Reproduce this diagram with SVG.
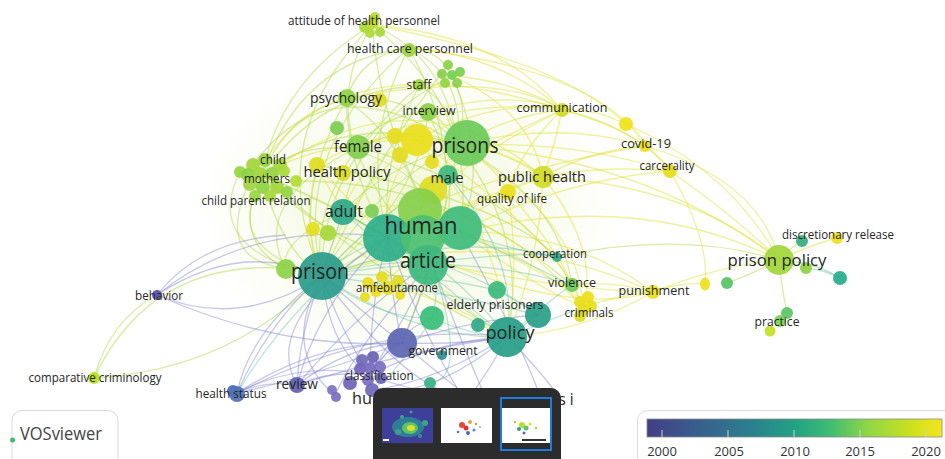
<svg xmlns="http://www.w3.org/2000/svg" width="945" height="459" viewBox="0 0 945 459">
<defs>
<linearGradient id="vir" x1="0" y1="0" x2="1" y2="0">
<stop offset="0" stop-color="#433e85"/><stop offset="0.15" stop-color="#3a5a8c"/><stop offset="0.35" stop-color="#2c7f8e"/><stop offset="0.5" stop-color="#22a185"/><stop offset="0.62" stop-color="#3fbc73"/><stop offset="0.75" stop-color="#8fd744"/><stop offset="0.9" stop-color="#cde11d"/><stop offset="1" stop-color="#f5e51e"/>
</linearGradient>
<radialGradient id="haze" cx="0.5" cy="0.5" r="0.5">
<stop offset="0" stop-color="#e4efb4" stop-opacity="0.55"/><stop offset="1" stop-color="#e4efb4" stop-opacity="0"/>
</radialGradient>
<style>
.l{font-family:"Open Sans","Liberation Sans",sans-serif;fill:#262626;text-anchor:middle}
.e{fill:none;stroke-width:1.3;stroke-linecap:round}
.ey{stroke:#e2e43a;stroke-opacity:.5}
.eg{stroke:#b4da4c;stroke-opacity:.5}
.et{stroke:#5fbfa3;stroke-opacity:.42}
.ep{stroke:#8a8ad4;stroke-opacity:.48}
.n circle,.n ellipse{fill-opacity:.93}
</style>
</defs>
<rect width="945" height="459" fill="#ffffff"/>
<ellipse cx="410" cy="210" rx="210" ry="160" fill="url(#haze)"/>
<g id="connectors">
<path class="e eg" d="M372 25 Q445 55 458 145"/>
<path class="e eg" d="M372 25 Q380 120 425 205"/>
<path class="e eg" d="M372 25 Q335 85 355 150"/>
<path class="e eg" d="M372 25 Q280 80 262 175"/>
<path class="e eg" d="M372 25 Q480 110 460 232"/>
<path class="e ey" d="M372 25 Q500 35 560 108"/>
<path class="e eg" d="M372 25 Q260 140 322 276"/>
<path class="e ey" d="M372 25 Q560 60 626 124"/>
<path class="e eg" d="M409 48 Q465 75 458 145"/>
<path class="e eg" d="M409 48 Q360 140 388 237"/>
<path class="e eg" d="M409 48 Q470 160 432 262"/>
<path class="e eg" d="M409 48 Q300 60 262 175"/>
<path class="e eg" d="M409 48 Q360 55 346 100"/>
<path class="e eg" d="M409 48 Q290 150 322 276"/>
<path class="e ey" d="M409 48 Q500 55 560 108"/>
<path class="e eg" d="M409 48 Q440 50 452 76"/>
<path class="e ey" d="M409 48 Q600 70 645 146"/>
<path class="e eg" d="M452 76 Q470 110 458 145"/>
<path class="e eg" d="M452 76 Q490 160 460 232"/>
<path class="e ey" d="M452 76 Q510 80 560 108"/>
<path class="e ey" d="M452 76 Q530 110 543 177"/>
<path class="e eg" d="M452 76 Q360 120 343 212"/>
<path class="e eg" d="M448 65 Q380 150 322 276"/>
<path class="e eg" d="M419 86 Q450 100 458 145"/>
<path class="e eg" d="M419 86 Q380 160 388 237"/>
<path class="e eg" d="M419 86 Q320 90 262 175"/>
<path class="e eg" d="M419 86 Q320 170 322 276"/>
<path class="e eg" d="M427 112 Q445 120 458 145"/>
<path class="e eg" d="M427 112 Q470 190 432 262"/>
<path class="e eg" d="M427 112 Q380 115 355 150"/>
<path class="e ey" d="M427 112 Q500 90 560 108"/>
<path class="e eg" d="M428 112 Q420 200 322 276"/>
<path class="e eg" d="M346 100 Q410 90 458 145"/>
<path class="e eg" d="M346 100 Q350 180 388 237"/>
<path class="e eg" d="M346 100 Q290 200 322 276"/>
<path class="e eg" d="M346 100 Q290 110 262 175"/>
<path class="e eg" d="M346 100 Q420 150 432 262"/>
<path class="e ey" d="M347 98 Q500 70 562 110"/>
<path class="e eg" d="M355 150 Q410 120 458 145"/>
<path class="e eg" d="M355 150 Q390 220 432 262"/>
<path class="e eg" d="M355 150 Q310 220 322 276"/>
<path class="e eg" d="M355 150 Q420 170 460 232"/>
<path class="e eg" d="M355 150 Q300 140 262 175"/>
<path class="e eg" d="M358 147 Q520 190 572 285"/>
<path class="e eg" d="M358 147 Q250 200 285 268"/>
<path class="e ey" d="M317 165 Q390 120 458 145"/>
<path class="e ey" d="M317 165 Q340 220 388 237"/>
<path class="e ey" d="M317 165 Q300 230 322 276"/>
<path class="e ey" d="M317 165 Q420 280 507 337"/>
<path class="e eg" d="M317 165 Q500 200 557 257"/>
<path class="e eg" d="M262 175 Q320 200 388 237"/>
<path class="e eg" d="M262 175 Q330 250 432 262"/>
<path class="e eg" d="M262 175 Q280 250 322 276"/>
<path class="e eg" d="M262 175 Q350 110 458 145"/>
<path class="e eg" d="M262 175 Q300 190 343 212"/>
<path class="e eg" d="M262 175 Q380 280 507 337"/>
<path class="e eg" d="M262 175 Q230 240 285 268"/>
<path class="e eg" d="M240 172 Q200 250 322 276"/>
<path class="e eg" d="M253 165 Q330 60 458 145"/>
<path class="e ey" d="M265 160 Q350 40 562 110"/>
<path class="e ey" d="M280 165 Q420 70 543 177"/>
<path class="e eg" d="M296 181 Q450 180 572 285"/>
<path class="e eg" d="M248 185 Q215 260 285 268"/>
<path class="e eg" d="M255 195 Q230 250 322 276"/>
<path class="e eg" d="M94 378 Q150 260 285 268"/>
<path class="e eg" d="M94 378 Q110 320 157 295"/>
<path class="e eg" d="M94 378 Q230 370 322 276"/>
<path class="e ey" d="M417 140 Q380 190 388 237"/>
<path class="e ey" d="M417 140 Q340 200 322 276"/>
<path class="e ey" d="M417 140 Q500 230 507 337"/>
<path class="e ey" d="M417 140 Q320 140 262 175"/>
<path class="e ey" d="M417 140 Q360 160 343 212"/>
<path class="e ey" d="M417 140 Q490 140 543 177"/>
<path class="e ey" d="M417 140 Q490 100 560 108"/>
<path class="e ey" d="M417 140 Q560 240 583 307"/>
<path class="e eg" d="M458 145 Q370 190 322 276"/>
<path class="e eg" d="M458 145 Q530 240 507 337"/>
<path class="e ey" d="M458 145 Q510 150 543 177"/>
<path class="e ey" d="M458 145 Q490 160 508 192"/>
<path class="e ey" d="M458 145 Q560 120 645 146"/>
<path class="e ey" d="M458 145 Q580 140 669 172"/>
<path class="e eg" d="M458 145 Q380 170 343 212"/>
<path class="e eg" d="M458 145 Q560 200 572 285"/>
<path class="e ey" d="M458 145 Q580 220 583 307"/>
<path class="e eg" d="M458 145 Q440 250 402 343"/>
<path class="e ey" d="M458 145 Q650 160 779 260"/>
<path class="e ey" d="M460 232 Q640 190 779 260"/>
<path class="e ey" d="M543 177 Q690 185 779 260"/>
<path class="e ey" d="M460 232 Q540 260 583 307"/>
<path class="e ey" d="M460 232 Q600 300 583 307"/>
<path class="e ey" d="M460 232 Q570 230 653 292"/>
<path class="e ey" d="M432 262 Q560 290 653 292"/>
<path class="e ey" d="M322 276 Q500 220 653 292"/>
<path class="e ey" d="M388 237 Q560 320 653 292"/>
<path class="e ey" d="M507 337 Q590 330 653 292"/>
<path class="e ey" d="M583 307 Q620 295 653 292"/>
<path class="e ey" d="M572 285 Q610 280 653 292"/>
<path class="e ey" d="M653 292 Q680 282 705 284"/>
<path class="e ey" d="M653 292 Q720 265 779 260"/>
<path class="e eg" d="M557 257 Q680 230 779 260"/>
<path class="e ey" d="M626 124 Q730 170 779 260"/>
<path class="e ey" d="M670 171 Q740 220 779 260"/>
<path class="e ey" d="M645 146 Q760 180 779 260"/>
<path class="e ey" d="M670 171 Q710 240 705 284"/>
<path class="e ey" d="M562 110 Q595 108 626 124"/>
<path class="e ey" d="M562 110 Q610 120 645 146"/>
<path class="e ey" d="M562 110 Q640 130 670 171"/>
<path class="e ey" d="M626 124 Q640 130 645 146"/>
<path class="e ey" d="M645 146 Q660 155 670 171"/>
<path class="e ey" d="M645 146 Q590 150 543 177"/>
<path class="e ey" d="M670 171 Q600 165 543 177"/>
<path class="e ey" d="M670 171 Q560 180 460 232"/>
<path class="e ey" d="M645 146 Q530 165 425 205"/>
<path class="e ey" d="M562 110 Q510 115 458 145"/>
<path class="e ey" d="M562 110 Q460 160 388 237"/>
<path class="e ey" d="M562 110 Q555 145 543 177"/>
<path class="e ey" d="M562 110 Q520 150 508 192"/>
<path class="e ey" d="M562 110 Q450 95 355 150"/>
<path class="e ey" d="M562 110 Q420 170 322 276"/>
<path class="e ey" d="M543 177 Q470 200 388 237"/>
<path class="e ey" d="M543 177 Q430 220 322 276"/>
<path class="e ey" d="M543 177 Q540 260 507 337"/>
<path class="e ey" d="M543 177 Q600 250 583 307"/>
<path class="e ey" d="M508 192 Q450 210 388 237"/>
<path class="e ey" d="M508 192 Q420 250 322 276"/>
<path class="e ey" d="M508 192 Q520 270 507 337"/>
<path class="e ey" d="M508 192 Q560 250 583 307"/>
<path class="e ey" d="M385 285 Q400 260 432 262"/>
<path class="e ey" d="M385 285 Q450 300 507 337"/>
<path class="e ey" d="M385 285 Q420 200 458 145"/>
<path class="e ey" d="M583 307 Q540 290 460 232"/>
<path class="e ey" d="M343 212 Q480 180 583 307"/>
<path class="e eg" d="M343 212 Q280 240 285 268"/>
<path class="e et" d="M388 237 Q350 250 322 276"/>
<path class="e et" d="M388 237 Q460 300 507 337"/>
<path class="e et" d="M432 262 Q380 260 322 276"/>
<path class="e et" d="M432 262 Q480 300 507 337"/>
<path class="e et" d="M322 276 Q420 340 507 337"/>
<path class="e et" d="M322 276 Q380 320 432 318"/>
<path class="e et" d="M322 276 Q410 270 497 290"/>
<path class="e et" d="M322 276 Q450 230 557 257"/>
<path class="e et" d="M322 276 Q460 250 572 285"/>
<path class="e et" d="M322 276 Q440 290 538 315"/>
<path class="e et" d="M460 232 Q510 250 557 257"/>
<path class="e et" d="M460 232 Q520 260 572 285"/>
<path class="e et" d="M432 262 Q440 290 432 318"/>
<path class="e et" d="M432 262 Q490 280 538 315"/>
<path class="e et" d="M432 318 Q470 335 507 337"/>
<path class="e et" d="M497 290 Q515 300 538 315"/>
<path class="e et" d="M507 337 Q550 300 572 285"/>
<path class="e et" d="M507 337 Q550 320 583 307"/>
<path class="e et" d="M343 212 Q330 250 322 276"/>
<path class="e et" d="M343 212 Q365 225 388 237"/>
<path class="e et" d="M343 212 Q390 240 432 262"/>
<path class="e et" d="M343 212 Q430 290 507 337"/>
<path class="e et" d="M448 175 Q370 220 322 276"/>
<path class="e et" d="M448 175 Q520 260 507 337"/>
<path class="e et" d="M388 237 Q300 290 237 393"/>
<path class="e et" d="M432 262 Q540 250 557 257"/>
<path class="e et" d="M432 318 Q400 370 372 390"/>
<path class="e et" d="M432 262 Q470 380 430 383"/>
<path class="e ep" d="M157 295 Q240 240 322 276"/>
<path class="e ep" d="M157 295 Q240 330 322 276"/>
<path class="e ep" d="M157 295 Q250 220 388 237"/>
<path class="e ep" d="M157 295 Q200 240 285 235"/>
<path class="e ep" d="M157 295 Q280 350 402 343"/>
<path class="e ep" d="M237 393 Q270 320 322 276"/>
<path class="e ep" d="M237 393 Q265 380 297 385"/>
<path class="e ep" d="M237 393 Q320 340 402 343"/>
<path class="e ep" d="M237 393 Q300 360 370 375"/>
<path class="e ep" d="M237 393 Q380 320 507 337"/>
<path class="e ep" d="M322 276 Q250 330 237 393"/>
<path class="e ep" d="M402 343 Q300 380 237 393"/>
<path class="e ep" d="M297 385 Q300 330 322 276"/>
<path class="e ep" d="M297 385 Q350 345 402 343"/>
<path class="e ep" d="M297 385 Q410 350 507 337"/>
<path class="e ep" d="M297 385 Q320 300 388 237"/>
<path class="e ep" d="M297 385 Q370 300 432 262"/>
<path class="e ep" d="M297 385 Q330 370 370 375"/>
<path class="e ep" d="M388 237 Q260 320 297 385"/>
<path class="e ep" d="M370 375 Q385 350 402 343"/>
<path class="e ep" d="M370 375 Q340 330 322 276"/>
<path class="e ep" d="M370 375 Q370 300 388 237"/>
<path class="e ep" d="M370 375 Q410 310 432 262"/>
<path class="e ep" d="M370 375 Q440 340 507 337"/>
<path class="e ep" d="M370 375 Q400 330 432 318"/>
<path class="e ep" d="M322 276 Q330 350 370 375"/>
<path class="e ep" d="M402 343 Q360 310 322 276"/>
<path class="e ep" d="M402 343 Q390 290 388 237"/>
<path class="e ep" d="M402 343 Q420 300 432 262"/>
<path class="e ep" d="M402 343 Q460 345 507 337"/>
<path class="e ep" d="M402 343 Q470 320 538 315"/>
<path class="e ep" d="M402 343 Q440 375 470 398"/>
<path class="e ep" d="M370 375 Q420 395 470 395"/>
<path class="e ep" d="M322 276 Q400 380 455 396"/>
<path class="e ep" d="M388 237 Q420 330 462 396"/>
<path class="e ep" d="M507 337 Q490 370 470 396"/>
<path class="e ep" d="M432 262 Q460 340 485 396"/>
<path class="e ep" d="M507 337 Q540 370 560 398"/>
<path class="e ep" d="M432 262 Q360 340 335 395"/>
<path class="e ep" d="M322 276 Q280 350 335 395"/>
<path class="e ep" d="M460 232 Q520 340 540 396"/>
<path class="e ep" d="M507 337 Q430 400 372 390"/>
<path class="e ep" d="M538 315 Q450 380 372 390"/>
<path class="e eg" d="M779 260 Q790 248 802 241"/>
<path class="e ey" d="M779 260 Q810 245 837 238"/>
<path class="e et" d="M779 260 Q815 262 840 278"/>
<path class="e eg" d="M779 260 L806 268"/>
<path class="e eg" d="M779 260 Q782 290 787 313"/>
<path class="e et" d="M806 268 Q825 270 840 278"/>
<path class="e eg" d="M779 260 Q750 275 727 283"/>
</g>
<g class="n" id="nodes">
<g id="n-attitude"><circle cx="375" cy="17" r="5" fill="#b7dc2f"/><circle cx="365" cy="27" r="6" fill="#a9d93a"/><circle cx="373" cy="23" r="6" fill="#bcdc2e"/><circle cx="380" cy="32" r="5" fill="#a6d83a"/><circle cx="370" cy="33" r="5" fill="#b0da35"/></g>
<g id="n-hcp"><circle cx="409" cy="50" r="7" fill="#9cd53e"/></g>
<g id="n-flower"><circle cx="448" cy="65" r="5" fill="#8bd247"/><circle cx="460" cy="72" r="5" fill="#7dcf52"/><circle cx="457" cy="83" r="5" fill="#8bd247"/><circle cx="445" cy="83" r="5" fill="#93d442"/><circle cx="442" cy="74" r="5" fill="#86d04a"/><circle cx="452" cy="75" r="5" fill="#7acd55"/></g>
<g id="n-staff"><circle cx="419" cy="85" r="6" fill="#a5d83a"/></g>
<g id="n-psychology"><circle cx="347" cy="98" r="9" fill="#8fd445"/><circle cx="380" cy="100" r="7" fill="#e2dc21"/></g>
<g id="n-interview"><circle cx="428" cy="112" r="9" fill="#8bd247"/></g>
<g id="n-female"><circle cx="337" cy="128" r="7" fill="#7dcd52"/><circle cx="358" cy="147" r="12" fill="#82cf4d"/></g>
<g id="n-prisons"><circle cx="467" cy="143" r="23" fill="#6cca5a"/><circle cx="395" cy="136" r="8" fill="#e6dc1f"/><circle cx="417" cy="140" r="16" fill="#e9df1d"/><circle cx="400" cy="155" r="8" fill="#e4dc21"/><circle cx="432" cy="162" r="7" fill="#e6dd1f"/></g>
<g id="n-child"><circle cx="240" cy="172" r="6" fill="#9ad540"/><circle cx="253" cy="165" r="7" fill="#a2d63c"/><circle cx="265" cy="160" r="7" fill="#97d442"/><circle cx="280" cy="165" r="7" fill="#a6d83a"/><circle cx="248" cy="175" r="7" fill="#8ed244"/><circle cx="260" cy="174" r="7" fill="#a2d63c"/><circle cx="272" cy="174" r="7" fill="#96d443"/><circle cx="284" cy="171" r="6" fill="#a9d93a"/><circle cx="250" cy="184" r="7" fill="#9ed53e"/><circle cx="263" cy="187" r="7" fill="#8fd244"/><circle cx="277" cy="187" r="7" fill="#a2d63c"/><circle cx="255" cy="196" r="6" fill="#9ad540"/><circle cx="270" cy="196" r="6" fill="#a6d83a"/><circle cx="287" cy="192" r="6" fill="#93d442"/><circle cx="296" cy="181" r="6" fill="#b3db33"/></g>
<g id="n-healthpolicy"><circle cx="317" cy="165" r="8" fill="#e0dd22"/><circle cx="343" cy="173" r="8" fill="#d9dc26"/></g>
<g id="n-adult"><circle cx="313" cy="229" r="7" fill="#e4de1f"/><circle cx="328" cy="233" r="8" fill="#a6d83a"/><circle cx="372" cy="211" r="7" fill="#7dce55"/><circle cx="343" cy="212" r="13" fill="#2ea889"/></g>
<g id="n-male"><circle cx="448" cy="175" r="10" fill="#40b97b"/></g>
<g id="n-human"><circle cx="433" cy="190" r="14" fill="#dedd25"/><circle cx="420" cy="210" r="22" fill="#86d04e"/><circle cx="460" cy="228" r="22" fill="#3fbc7c"/><circle cx="387" cy="238" r="24" fill="#2fae8a"/><circle cx="423" cy="237" r="22" fill="#4cc072"/></g>
<g id="n-article"><circle cx="428" cy="265" r="20" fill="#3db87e"/></g>
<g id="n-prison"><circle cx="286" cy="269" r="10" fill="#8ed34a"/><circle cx="322" cy="276" r="24" fill="#2c9c8c"/></g>
<g id="n-amfebutamone"><circle cx="368" cy="283" r="6" fill="#e8de1e"/><circle cx="382" cy="277" r="6" fill="#e4dd20"/><circle cx="388" cy="288" r="7" fill="#e8de1e"/><circle cx="376" cy="291" r="6" fill="#ecdf1c"/><circle cx="398" cy="281" r="6" fill="#e0dc22"/><circle cx="400" cy="295" r="5" fill="#e8de1e"/><circle cx="365" cy="297" r="5" fill="#e4dd20"/></g>
<g id="n-publichealth"><circle cx="508" cy="192" r="8" fill="#e8de1d"/><circle cx="543" cy="177" r="11" fill="#d2dc29"/></g>
<g id="n-communication"><circle cx="562" cy="110" r="7" fill="#d2db2a"/></g>
<g id="n-covid"><circle cx="626" cy="124" r="7" fill="#f0e21b"/><circle cx="645" cy="146" r="6" fill="#e9df1d"/></g>
<g id="n-carcerality"><circle cx="670" cy="171" r="7" fill="#e6dd1d"/></g>
<g id="n-cooperation"><circle cx="557" cy="257" r="5" fill="#2fa98a"/></g>
<g id="n-violence"><circle cx="572" cy="285" r="7" fill="#6cc95a"/></g>
<g id="n-criminals"><circle cx="580" cy="302" r="6" fill="#e8de1e"/><circle cx="588" cy="297" r="6" fill="#ecdf1c"/><circle cx="583" cy="310" r="6" fill="#e4dd20"/><circle cx="591" cy="306" r="6" fill="#e8de1e"/><circle cx="580" cy="316" r="6" fill="#e2dc21"/></g>
<g id="n-punishment"><circle cx="653" cy="292" r="7" fill="#ecdf1c"/></g>
<g id="n-y705"><ellipse cx="705" cy="284" rx="5" ry="6.5" fill="#f0e11a"/></g>
<g id="n-g727"><circle cx="727" cy="283" r="6" fill="#57c566"/></g>
<g id="n-prisonpolicy"><circle cx="779" cy="260" r="15" fill="#a1d63c"/><circle cx="806" cy="268" r="6" fill="#8ed244"/></g>
<g id="n-discretionary"><circle cx="802" cy="241" r="6" fill="#39ad7f"/><circle cx="837" cy="238" r="6" fill="#ecdf1c"/></g>
<g id="n-t840"><circle cx="840" cy="278" r="7" fill="#26ad8a"/></g>
<g id="n-practice"><circle cx="787" cy="313" r="6" fill="#5bc565"/><circle cx="780" cy="321" r="6" fill="#7ad151"/><circle cx="770" cy="331" r="5.5" fill="#c4df27"/></g>
<g id="n-elderly"><circle cx="432" cy="318" r="12" fill="#39be79"/><circle cx="497" cy="290" r="9" fill="#3cba7c"/><circle cx="478" cy="325" r="7" fill="#2fa987"/></g>
<g id="n-policy"><circle cx="538" cy="315" r="13" fill="#2a9f88"/><circle cx="507" cy="337" r="20" fill="#279f8a"/></g>
<g id="n-government"><circle cx="402" cy="343" r="15" fill="#5c66b2"/><circle cx="442" cy="355" r="5" fill="#2e8e90"/></g>
<g id="n-classification"><circle cx="362" cy="360" r="6" fill="#7268b8"/><circle cx="373" cy="357" r="6" fill="#6a62b4"/><circle cx="380" cy="367" r="6" fill="#7a6fc0"/><circle cx="360" cy="369" r="6" fill="#6f64b5"/><circle cx="370" cy="368" r="6" fill="#766bbc"/><circle cx="350" cy="383" r="7" fill="#6f64b5"/><circle cx="368" cy="380" r="6" fill="#7a6fc0"/><circle cx="381" cy="378" r="6" fill="#6a62b4"/><circle cx="372" cy="390" r="7" fill="#7268b8"/><circle cx="332" cy="390" r="5" fill="#7f73c4"/><circle cx="336" cy="397" r="5" fill="#7a6fc0"/></g>
<g id="n-t430"><circle cx="430" cy="383" r="6" fill="#3bb384"/></g>
<g id="n-review"><circle cx="297" cy="385" r="8" fill="#6060b3"/></g>
<g id="n-healthstatus"><circle cx="233" cy="391" r="6" fill="#4a6cb5"/><circle cx="237" cy="394" r="8" fill="#4f73b9"/></g>
<g id="n-behavior"><circle cx="157" cy="295" r="5" fill="#5a50a6"/></g>
<g id="n-comparative"><circle cx="94" cy="378" r="6" fill="#b9e020"/></g>
</g>
<g id="labels">
<text class="l" x="364" y="25" font-size="13" textLength="152" lengthAdjust="spacingAndGlyphs">attitude of health personnel</text>
<text class="l" x="410" y="53" font-size="13" textLength="126" lengthAdjust="spacingAndGlyphs">health care personnel</text>
<text class="l" x="419" y="89" font-size="13" textLength="25" lengthAdjust="spacingAndGlyphs">staff</text>
<text class="l" x="346" y="103" font-size="14" textLength="72" lengthAdjust="spacingAndGlyphs">psychology</text>
<text class="l" x="429" y="115" font-size="13" textLength="53" lengthAdjust="spacingAndGlyphs">interview</text>
<text class="l" x="562" y="112" font-size="13" textLength="91" lengthAdjust="spacingAndGlyphs">communication</text>
<text class="l" x="646" y="148" font-size="13" textLength="50" lengthAdjust="spacingAndGlyphs">covid-19</text>
<text class="l" x="667" y="170" font-size="13" textLength="55" lengthAdjust="spacingAndGlyphs">carcerality</text>
<text class="l" x="358" y="152" font-size="16" textLength="48" lengthAdjust="spacingAndGlyphs">female</text>
<text class="l" x="465" y="153" font-size="22" textLength="67" lengthAdjust="spacingAndGlyphs">prisons</text>
<text class="l" x="273" y="164" font-size="12" textLength="26" lengthAdjust="spacingAndGlyphs">child</text>
<text class="l" x="267" y="183" font-size="12" textLength="46" lengthAdjust="spacingAndGlyphs">mothers</text>
<text class="l" x="347" y="177" font-size="15" textLength="87" lengthAdjust="spacingAndGlyphs">health policy</text>
<text class="l" x="447" y="183" font-size="15" textLength="33" lengthAdjust="spacingAndGlyphs">male</text>
<text class="l" x="542" y="182" font-size="15" textLength="88" lengthAdjust="spacingAndGlyphs">public health</text>
<text class="l" x="512" y="203" font-size="12.5" textLength="70" lengthAdjust="spacingAndGlyphs">quality of life</text>
<text class="l" x="256" y="205" font-size="12" textLength="109" lengthAdjust="spacingAndGlyphs">child parent relation</text>
<text class="l" x="344" y="217" font-size="16" textLength="38" lengthAdjust="spacingAndGlyphs">adult</text>
<text class="l" x="421" y="234" font-size="24" textLength="73" lengthAdjust="spacingAndGlyphs">human</text>
<text class="l" x="428" y="268" font-size="21" textLength="56" lengthAdjust="spacingAndGlyphs">article</text>
<text class="l" x="320" y="279" font-size="22" textLength="58" lengthAdjust="spacingAndGlyphs">prison</text>
<text class="l" x="397" y="292" font-size="12.5" textLength="82" lengthAdjust="spacingAndGlyphs">amfebutamone</text>
<text class="l" x="555" y="258" font-size="12.5" textLength="64" lengthAdjust="spacingAndGlyphs">cooperation</text>
<text class="l" x="572" y="287" font-size="13" textLength="48" lengthAdjust="spacingAndGlyphs">violence</text>
<text class="l" x="654" y="295" font-size="13" textLength="71" lengthAdjust="spacingAndGlyphs">punishment</text>
<text class="l" x="589" y="317" font-size="13" textLength="49" lengthAdjust="spacingAndGlyphs">criminals</text>
<text class="l" x="777" y="266" font-size="17" textLength="99" lengthAdjust="spacingAndGlyphs">prison policy</text>
<text class="l" x="838" y="239" font-size="12.5" textLength="112" lengthAdjust="spacingAndGlyphs">discretionary release</text>
<text class="l" x="777" y="326" font-size="13" textLength="45" lengthAdjust="spacingAndGlyphs">practice</text>
<text class="l" x="495" y="309" font-size="13" textLength="97" lengthAdjust="spacingAndGlyphs">elderly prisoners</text>
<text class="l" x="510" y="339" font-size="19" textLength="49" lengthAdjust="spacingAndGlyphs">policy</text>
<text class="l" x="443" y="355" font-size="13" textLength="69" lengthAdjust="spacingAndGlyphs">government</text>
<text class="l" x="379" y="380" font-size="12.5" textLength="69" lengthAdjust="spacingAndGlyphs">classification</text>
<text class="l" x="297" y="389" font-size="14" textLength="42" lengthAdjust="spacingAndGlyphs">review</text>
<text class="l" x="231" y="398" font-size="12.5" textLength="71" lengthAdjust="spacingAndGlyphs">health status</text>
<text class="l" x="159" y="300" font-size="12.5" textLength="48" lengthAdjust="spacingAndGlyphs">behavior</text>
<text class="l" x="95" y="382" font-size="12.5" textLength="133" lengthAdjust="spacingAndGlyphs">comparative criminology</text>
<text class="l" x="362" y="404" font-size="17" textLength="20" lengthAdjust="spacingAndGlyphs">hu</text>
<text class="l" x="566" y="405" font-size="17" textLength="15" lengthAdjust="spacingAndGlyphs">s i</text>
</g>
<g id="vosviewer-logo">
<rect x="12" y="410.5" width="106" height="60" rx="10" fill="#ffffff" stroke="#d9d9d9"/>
<circle cx="12.5" cy="440" r="2.5" fill="#3cbf6c"/>
<text x="20" y="440" font-family="'Open Sans','Liberation Sans',sans-serif" font-size="18" fill="#444" textLength="82" lengthAdjust="spacingAndGlyphs">VOSviewer</text>
</g>
<g id="thumbnail-panel">
<rect x="373" y="388" width="188" height="80" rx="10" fill="#2c2c2c"/>
<rect x="382" y="408" width="51" height="35" fill="#3d3f98"/>
<ellipse cx="408" cy="427" rx="16" ry="10" fill="#2c8f96" opacity="0.8"/>
<ellipse cx="410" cy="428" rx="8" ry="6" fill="#5cc36a"/>
<ellipse cx="411" cy="428" rx="4" ry="3" fill="#e0e226"/>
<circle cx="398" cy="432" r="3" fill="#3aa38c"/><circle cx="425" cy="423" r="3" fill="#3aa38c"/><circle cx="402" cy="417" r="2" fill="#3aa38c"/><circle cx="420" cy="436" r="2" fill="#3a8c96"/><circle cx="411" cy="412" r="1.5" fill="#3aa38c"/>
<rect x="383" y="439" width="6" height="2" fill="#ffffff"/>
<rect x="441" y="408" width="51" height="35" fill="#ffffff"/>
<circle cx="462" cy="425" r="3" fill="#e04a3a"/><circle cx="466" cy="428" r="2.5" fill="#d33"/><circle cx="470" cy="422" r="2" fill="#e8a23a"/><circle cx="468" cy="433" r="2" fill="#3a6fd0"/><circle cx="474" cy="430" r="1.5" fill="#4a8ad8"/><circle cx="476" cy="424" r="1.2" fill="#caa23a"/><circle cx="458" cy="432" r="1.2" fill="#3a6fd0"/><circle cx="480" cy="427" r="1" fill="#9ab"/>
<rect x="502" y="408" width="48" height="35" fill="#ffffff"/>
<circle cx="522" cy="425" r="3" fill="#b9dc2e"/><circle cx="526" cy="428" r="2.5" fill="#5cc36a"/><circle cx="519" cy="429" r="2" fill="#2c9c8c"/><circle cx="530" cy="424" r="1.5" fill="#e0dc22"/><circle cx="524" cy="433" r="1.5" fill="#5c66b2"/><circle cx="536" cy="428" r="1.2" fill="#9fd53d"/><circle cx="515" cy="422" r="1.2" fill="#9ad540"/>
<rect x="522" y="439" width="24" height="2" fill="#333"/>
<rect x="501" y="398" width="50" height="52" fill="none" stroke="#1e7ce0" stroke-width="2"/>
</g>
<g id="legend">
<rect x="637.5" y="410.5" width="320" height="60" rx="10" fill="#ffffff" stroke="#dcdcdc"/>
<rect x="647" y="419" width="295" height="18" fill="url(#vir)" stroke="#8a8a8a" stroke-width="0.8"/>
<g stroke="#d0d0d0" stroke-width="1">
<line x1="662" y1="430" x2="662" y2="437"/><line x1="728" y1="430" x2="728" y2="437"/><line x1="794" y1="430" x2="794" y2="437"/><line x1="860" y1="430" x2="860" y2="437"/><line x1="926" y1="430" x2="926" y2="437"/>
</g>
<g font-family="'Open Sans','Liberation Sans',sans-serif" font-size="13" fill="#333" text-anchor="middle">
<text x="662" y="456">2000</text><text x="729" y="456">2005</text><text x="795" y="456">2010</text><text x="860" y="456">2015</text><text x="926" y="456">2020</text>
</g>
</g>
</svg>
